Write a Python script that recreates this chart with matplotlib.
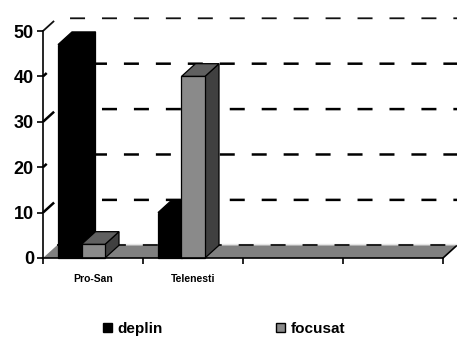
import matplotlib
matplotlib.use("Agg")
import matplotlib.pyplot as plt
from matplotlib.patches import Polygon, Rectangle, Patch

# Survey results per location
categories = ["Pro-San", "Telenesti", "", ""]
deplin = [47, 10, 0, 0]
focusat = [3, 40, 0, 0]
series_names = ["deplin", "focusat"]
y_ticks = [0, 10, 20, 30, 40, 50]

plt.rcParams['font.family'] = ['Liberation Sans', 'DejaVu Sans']
plt.rcParams['font.weight'] = 'bold'
plt.rcParams['lines.scale_dashes'] = False

# 3D depth offset (category units, value units)
DX = 0.14
DY = 2.8
BAR_W = 0.235
BAR_START = 0.15

# face colours: (front, top, side)
styles = [
    ("#000000", "#000000", "#000000"),
    ("#8a8a8a", "#606060", "#404040"),
]

fig = plt.figure(figsize=(4.57, 3.40), dpi=100)
ax = fig.add_axes([43 / 457, 82 / 340, 400 / 457, 227 / 340])
n = len(categories)
ax.set_xlim(0, n)
ax.set_ylim(0, y_ticks[-1])
ax.patch.set_visible(False)
for s in ["top", "right"]:
    ax.spines[s].set_visible(False)
ax.spines["left"].set_linewidth(1.2)
ax.spines["bottom"].set_linewidth(1.2)
ax.spines["left"].set_zorder(6)
ax.spines["bottom"].set_zorder(6)

# floor
floor = Polygon([(0, 0), (n, 0), (n + DX, DY), (DX, DY)], closed=True,
                facecolor="#808080", edgecolor="none", zorder=2, clip_on=False)
ax.add_patch(floor)
ax.plot([n, n + DX], [0, DY], color="black", lw=1.2, zorder=2.1, clip_on=False)
ax.plot([DX, n + DX], [DY * 1.12, DY * 1.12], color="#e6e6e6", lw=1.0,
        zorder=2.1, clip_on=False)

# back-wall gridlines with their left-wall lead-in
on, off = 10.8, 12.2
for k, v in enumerate(y_ticks):
    offset = 0 if k % 2 == 1 else 7.2
    if v == 0:
        ax.plot([DX, n + DX], [v + DY, v + DY], color="black", lw=1.2,
                ls=(offset, (on, off)), zorder=2.2, clip_on=False)
        continue
    if v == y_ticks[-1]:
        color, lw = "#111111", 1.3
    else:
        color, lw = "black", 1.8
    ax.plot([0, DX, n + DX], [v, v + DY, v + DY], color=color, lw=lw,
            ls=(offset, (on, off)), zorder=1, clip_on=False)

# 3D bars
z = 3.0
for i in range(n):
    for j, vals in enumerate([deplin, focusat]):
        h = vals[i]
        if h <= 0:
            continue
        fc_front, fc_top, fc_side = styles[j]
        x0 = i + BAR_START + j * BAR_W
        x1 = x0 + BAR_W
        side = Polygon([(x1, 0), (x1 + DX, DY), (x1 + DX, h + DY), (x1, h)],
                       closed=True, facecolor=fc_side, edgecolor="black",
                       lw=0.9, zorder=z, clip_on=False)
        top = Polygon([(x0, h), (x1, h), (x1 + DX, h + DY), (x0 + DX, h + DY)],
                      closed=True, facecolor=fc_top, edgecolor="black",
                      lw=0.9, zorder=z + 0.01, clip_on=False)
        front = Rectangle((x0, 0), BAR_W, h, facecolor=fc_front,
                          edgecolor="black", lw=0.9, zorder=z + 0.02,
                          clip_on=False)
        for p in (side, top, front):
            ax.add_patch(p)
        z += 0.1

# axes ticks and labels
ax.set_yticks(y_ticks)
ax.tick_params(axis="y", length=4.5, width=1.2, pad=2, labelsize=13)
ax.set_xticks(range(n + 1))
ax.set_xticklabels([])
ax.tick_params(axis="x", which="major", length=4.5, width=1.2)
ax.set_xticks([i + 0.5 for i in range(n)], minor=True)
ax.set_xticklabels(categories, minor=True)
ax.tick_params(axis="x", which="minor", length=0, pad=11.5, labelsize=7.5)

handles = [Patch(facecolor=styles[0][0], edgecolor="black"),
           Patch(facecolor=styles[1][0], edgecolor="black")]
fig.legend(handles=handles, labels=series_names, loc="center",
           bbox_to_anchor=(0.49, 0.033), ncol=2, frameon=False, fontsize=11,
           handlelength=0.6, handleheight=0.6, handletextpad=0.35,
           columnspacing=7.4, borderpad=0.1)

fig.savefig("out.png", dpi=100)
